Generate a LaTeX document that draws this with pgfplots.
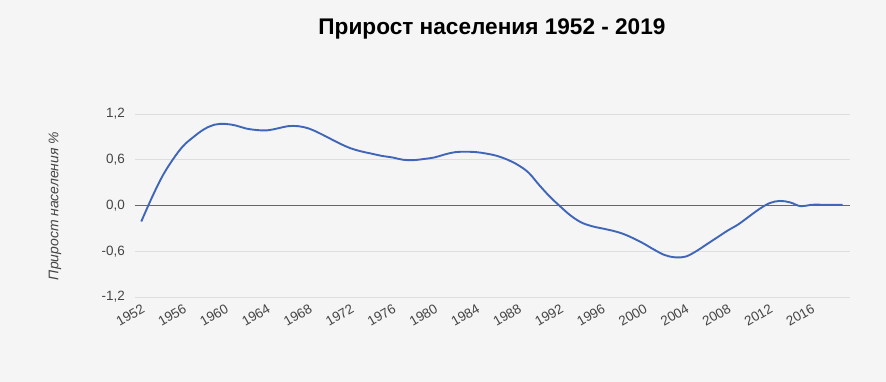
\documentclass[border=0pt]{standalone}
\usepackage{pgfplots}
\pgfplotsset{compat=1.18}
\usepackage{fontspec}
\setmainfont{Liberation Sans}
\definecolor{bg}{HTML}{F5F5F5}
\definecolor{gridc}{HTML}{DEDEDE}
\definecolor{zeroc}{HTML}{666666}
\definecolor{linec}{HTML}{3F66B8}
\definecolor{txt}{HTML}{444444}
\begin{document}
\begin{tikzpicture}
\fill[bg] (-135bp,-85bp) rectangle (751bp,297bp);
\begin{axis}[
  at={(0,0)}, anchor=south west,
  scale only axis, width=715bp, height=183bp,
  xmin=1951.4, xmax=2019.7, ymin=-1.2, ymax=1.2,
  axis line style={draw=none},
  xtick={1952,1956,...,2016},
  ytick={-1.2,-0.6,0,0.6,1.2},
  major tick length=0pt,
  ymajorgrids, grid style={gridc, line width=0.8pt},
  extra y ticks={0}, extra y tick labels={},
  extra y tick style={grid style={zeroc, line width=1pt}},
  /pgf/number format/assume math mode=true,
  x tick label style={/pgf/number format/1000 sep={}},
  y tick label style={/pgf/number format/fixed, /pgf/number format/fixed zerofill, /pgf/number format/precision=1, /pgf/number format/use comma},
  tick label style={font=\fontsize{13.5}{15}\selectfont, text=txt},
  xticklabel style={yshift=-10bp, xshift=3bp, rotate=30, anchor=east, inner sep=1pt},
  yticklabel style={xshift=-9bp, inner sep=1pt},
  clip=false,
]
\addplot[linec, line width=1.9pt, smooth, tension=0.6] coordinates {
(1952,-0.21)(1953,0.10)(1954,0.38)(1955,0.60)(1956,0.78)(1957,0.90)(1958,1.00)(1959,1.06)
(1960,1.07)(1961,1.05)(1962,1.01)(1963,0.99)(1964,0.985)(1965,1.01)(1966,1.04)(1967,1.04)
(1968,1.01)(1969,0.95)(1970,0.88)(1971,0.81)(1972,0.75)(1973,0.71)(1974,0.68)(1975,0.65)
(1976,0.63)(1977,0.60)(1978,0.595)(1979,0.61)(1980,0.63)(1981,0.67)(1982,0.70)(1983,0.705)
(1984,0.70)(1985,0.68)(1986,0.65)(1987,0.60)(1988,0.53)(1989,0.43)(1990,0.27)(1991,0.12)
(1992,-0.01)(1993,-0.13)(1994,-0.22)(1995,-0.27)(1996,-0.30)(1997,-0.33)(1998,-0.37)(1999,-0.43)
(2000,-0.50)(2001,-0.58)(2002,-0.65)(2003,-0.68)(2004,-0.67)(2005,-0.60)(2006,-0.51)(2007,-0.42)
(2008,-0.33)(2009,-0.25)(2010,-0.15)(2011,-0.05)(2012,0.03)(2013,0.06)(2014,0.04)(2015,-0.01)
(2016,0.01)(2017,0.01)(2018,0.01)(2019,0.01)
};
\end{axis}
\node[font=\bfseries\fontsize{22.7}{25}\selectfont, text=black] at (357bp,268bp) {Прирост населения 1952 - 2019};
\node[font=\itshape\fontsize{14}{16}\selectfont, text=txt, rotate=90] at (-80bp,91bp) {Прирост населения \%};
\pgfresetboundingbox
\path[use as bounding box] (-135bp,-85bp) rectangle (751bp,297bp);
\end{tikzpicture}
\end{document}
